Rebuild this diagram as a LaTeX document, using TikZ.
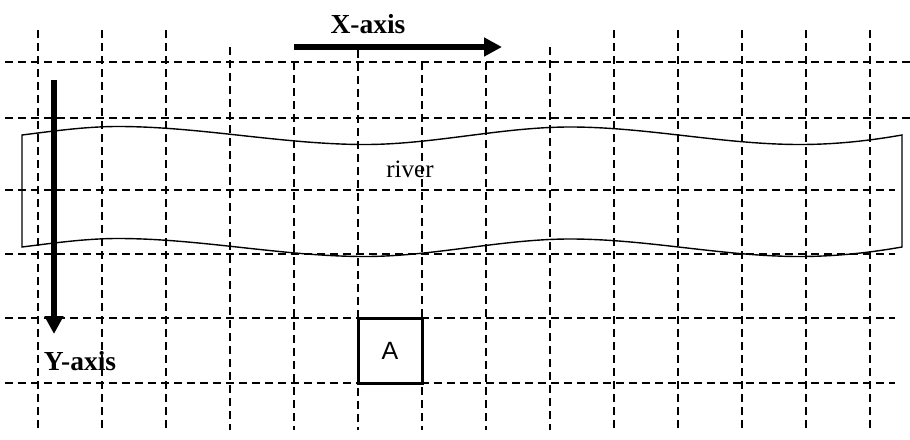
\documentclass[tikz,border=0pt]{standalone}
\usepackage{fontspec}
\setmainfont{Liberation Serif}
\newfontfamily\sansA{Liberation Sans}
\usetikzlibrary{arrows.meta}
\begin{document}
\begin{tikzpicture}[x=1pt,y=-1pt,
  gridline/.style={line width=1.8pt, dash pattern=on 8pt off 5pt},
  axisarrow/.style={line width=5.5pt, -{Triangle[length=18pt,width=18pt]}},
  riverline/.style={line width=1.4pt, line join=miter},
  boxA/.style={draw, line width=3pt, minimum width=64pt, minimum height=65pt, inner sep=0pt, fill=white},
  axislbl/.style={anchor=base, inner sep=0pt, font=\fontsize{27.5}{30}\selectfont\bfseries},
  riverlbl/.style={anchor=base, inner sep=0pt, font=\fontsize{25}{28}\selectfont},
  boxlbl/.style={font=\sansA\fontsize{25}{28}\selectfont}]
\useasboundingbox (0,0) rectangle (910,439);
% vertical grid lines
\foreach \x/\t in {38/30,102/30,166/30,230/47,294/62,358/50,422/62,486/62,550/47,614/30,678/30,742/30,806/30,870/30}
  \draw[gridline] (\x,\t) -- (\x,430);
% horizontal grid lines
\foreach \y/\e in {62/910,118/910,190/895,254/895,318/895,383/895}
  \draw[gridline] (5,\y) -- (\e,\y);
% river
\draw[riverline] (22,135)
  .. controls (54,131) and (86,126.5) .. (118,126.5)
  .. controls (200,126.5) and (283,144.5) .. (365,144.5)
  .. controls (433,144.5) and (502,127) .. (570,127)
  .. controls (647,127) and (723,144.5) .. (800,144.5)
  .. controls (834,144.5) and (868,141) .. (902,135)
  -- (902,247)
  .. controls (868,253) and (834,256.5) .. (800,256.5)
  .. controls (723,256.5) and (647,239) .. (570,239)
  .. controls (502,239) and (433,256.5) .. (365,256.5)
  .. controls (283,256.5) and (200,238.5) .. (118,238.5)
  .. controls (86,238.5) and (54,243) .. (22,247)
  -- cycle;
\node[riverlbl] (river) at (410,177) {river};
% axes
\coordinate (xs) at (294,47);
\coordinate (xe) at (502,47);
\coordinate (ys) at (54,80);
\coordinate (ye) at (54,334);
\draw[axisarrow] (xs) -- (xe);
\draw[axisarrow] (ys) -- (ye);
\node[axislbl] (xlabel) at (368,33) {X-axis};
\node[axislbl] (ylabel) at (80,370) {Y-axis};
% box A
\node[boxA] (A) at (390,350.5) {};
\node[boxlbl] (Alabel) at (A.center) {A};
\end{tikzpicture}
\end{document}
